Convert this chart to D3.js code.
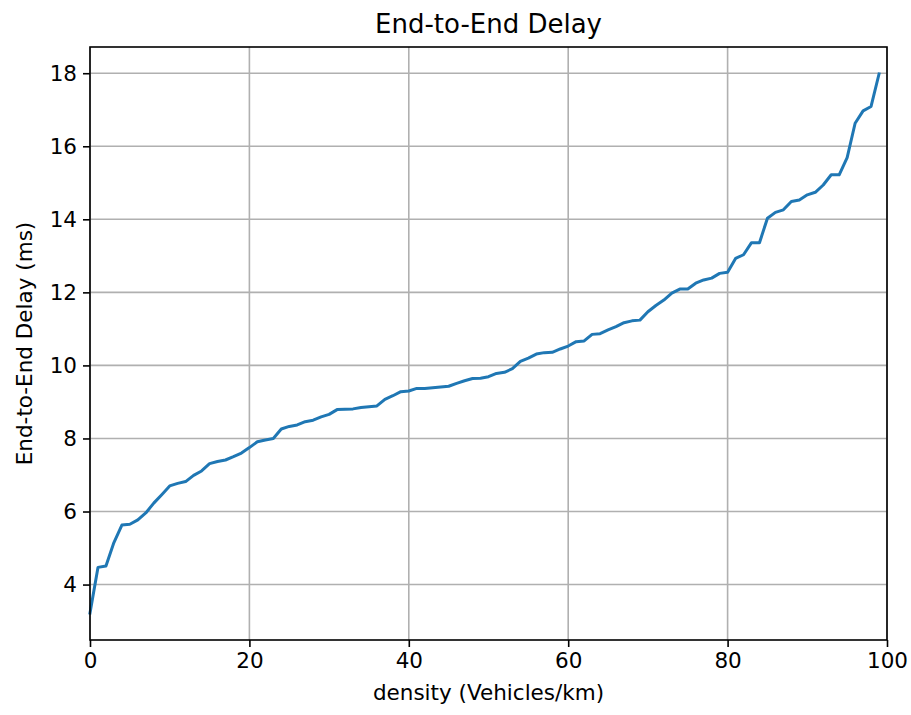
<!DOCTYPE html>
<html lang="en">
<head>
<meta charset="UTF-8">
<title>End-to-End Delay</title>
<script src="https://d3js.org/d3.v7.min.js"></script>
<style>
  body { margin: 0; background: #fff; }
  svg text { font-family: "DejaVu Sans", sans-serif; fill: #000; }
</style>
</head>
<body>
<svg id="chart" width="911" height="715"></svg>
<script>
// density (vehicles/km) 0..99
var density = d3.range(0, 100);
// end-to-end delay (ms)
var delay = [
  3.22, 4.47, 4.51, 5.15, 5.63, 5.65, 5.77, 5.96, 6.23, 6.46,
  6.70, 6.77, 6.82, 6.99, 7.11, 7.31, 7.37, 7.41, 7.50, 7.60,
  7.75, 7.91, 7.96, 8.00, 8.26, 8.33, 8.37, 8.46, 8.50, 8.59,
  8.66, 8.79, 8.80, 8.81, 8.85, 8.87, 8.89, 9.07, 9.17, 9.28,
  9.30, 9.37, 9.37, 9.39, 9.41, 9.43, 9.51, 9.58, 9.64, 9.65,
  9.69, 9.78, 9.81, 9.91, 10.11, 10.20, 10.31, 10.35, 10.36, 10.45,
  10.53, 10.65, 10.67, 10.85, 10.87, 10.97, 11.06, 11.17, 11.22, 11.24,
  11.47, 11.64, 11.79, 11.98, 12.09, 12.09, 12.25, 12.34, 12.39, 12.52,
  12.55, 12.93, 13.03, 13.36, 13.36, 14.03, 14.19, 14.26, 14.49, 14.53,
  14.67, 14.74, 14.94, 15.22, 15.22, 15.69, 16.63, 16.97, 17.09, 17.98
];
var xTicks = [0, 20, 40, 60, 80, 100];
var yTicks = [4, 6, 8, 10, 12, 14, 16, 18];

var m = { left: 90, right: 887, top: 47, bottom: 640 };
var svg = d3.select("#chart");

var ext = d3.extent(delay);
var pad = (ext[1] - ext[0]) * 0.05;
var x = d3.scaleLinear().domain([0, 100]).range([m.left, m.right]);
var y = d3.scaleLinear().domain([ext[0] - pad, ext[1] + pad]).range([m.bottom, m.top]);

// grid
svg.append("g")
  .selectAll("line")
  .data(xTicks)
  .enter().append("line")
  .attr("x1", d => x(d)).attr("x2", d => x(d))
  .attr("y1", m.top).attr("y2", m.bottom)
  .attr("stroke", "#b0b0b0").attr("stroke-width", 1.6);
svg.append("g")
  .selectAll("line")
  .data(yTicks)
  .enter().append("line")
  .attr("x1", m.left).attr("x2", m.right)
  .attr("y1", d => y(d)).attr("y2", d => y(d))
  .attr("stroke", "#b0b0b0").attr("stroke-width", 1.6);

// the line
var line = d3.line()
  .x((d, i) => x(density[i]))
  .y(d => y(d));
svg.append("path")
  .datum(delay)
  .attr("d", line)
  .attr("fill", "none")
  .attr("stroke", "#1f77b4")
  .attr("stroke-width", 3)
  .attr("stroke-linejoin", "round")
  .attr("stroke-linecap", "square");

// axes
var xAxis = svg.append("g")
  .attr("transform", "translate(0," + m.bottom + ")")
  .call(d3.axisBottom(x).tickValues(xTicks).tickSizeOuter(0).tickSize(7).tickPadding(6));
var yAxis = svg.append("g")
  .attr("transform", "translate(" + m.left + ",0)")
  .call(d3.axisLeft(y).tickValues(yTicks).tickSizeOuter(0).tickSize(7).tickPadding(6));
[xAxis, yAxis].forEach(function(g) {
  g.select(".domain").remove();
  g.selectAll(".tick line").attr("stroke", "#000").attr("stroke-width", 1.6);
  g.selectAll(".tick text").style("font-size", "21.5px").style("font-family", "DejaVu Sans");
});

// frame
svg.append("rect")
  .attr("x", m.left).attr("y", m.top)
  .attr("width", m.right - m.left).attr("height", m.bottom - m.top)
  .attr("fill", "none").attr("stroke", "#000").attr("stroke-width", 1.6);

// labels
svg.append("text")
  .attr("x", (m.left + m.right) / 2).attr("y", 33)
  .attr("text-anchor", "middle")
  .style("font-size", "26px")
  .text("End-to-End Delay");
svg.append("text")
  .attr("x", (m.left + m.right) / 2).attr("y", 700)
  .attr("text-anchor", "middle")
  .style("font-size", "21.5px")
  .text("density (Vehicles/km)");
svg.append("text")
  .attr("transform", "translate(32," + (m.top + m.bottom) / 2 + ") rotate(-90)")
  .attr("text-anchor", "middle")
  .style("font-size", "21.5px")
  .text("End-to-End Delay (ms)");
</script>
</body>
</html>
